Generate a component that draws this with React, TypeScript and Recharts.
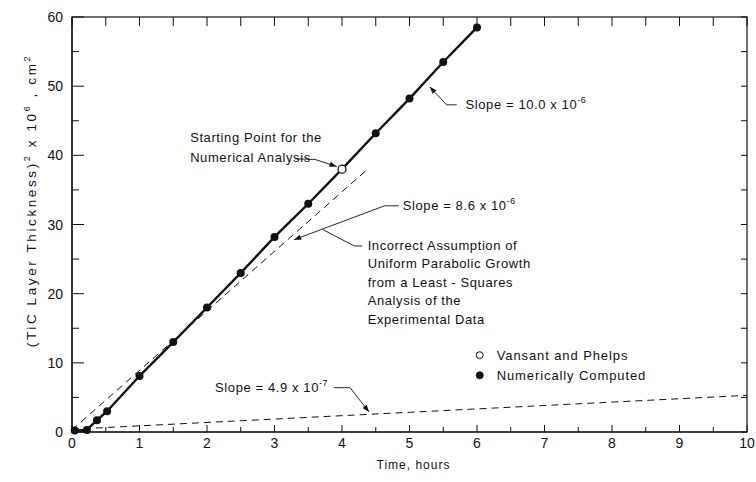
import React from "react";
import { ComposedChart, Line, Scatter, XAxis, YAxis, ReferenceLine, ReferenceDot, Label } from "recharts";

// numerically computed growth, hours vs (thickness)^2 x 10^6 cm^2
const computedHours = [0.04, 0.22, 0.37, 0.52, 1, 1.5, 2, 2.5, 3, 3.5, 4, 4.5, 5, 5.5, 6];
const computedSq = [0.2, 0.3, 1.7, 3.0, 8.1, 13, 18, 23, 28.2, 33, 38, 43.2, 48.2, 53.5, 58.5];

// Vansant and Phelps starting point
const vansantHours = [4];
const vansantSq = [38];

// least-squares parabolic fit (slope 8.6e-6)
const fitHours = [0, 4.38];
const fitSq = [0.3, 38];

// slope 4.9e-7 line
const lowHours = [0, 10];
const lowSq = [0.4, 5.3];

const xLabels = [0, 1, 2, 3, 4, 5, 6, 7, 8, 9, 10];
const yLabels = [0, 10, 20, 30, 40, 50, 60];

const xTicks = Array.from({ length: 21 }, (_, i) => i * 0.5);
const yTicks = Array.from({ length: 13 }, (_, i) => i * 5);

const X_MIN = 0;
const X_MAX = 10;
const Y_MIN = 0;
const Y_MAX = 60;

const zip = (xs: number[], ys: number[]) => xs.map((x, i) => ({ x, y: ys[i] }));

const computed = zip(computedHours, computedSq);
const computedDots = computed.filter((d) => d.x !== 4);
const vansant = zip(vansantHours, vansantSq);
const fit = zip(fitHours, fitSq);
const low = zip(lowHours, lowSq);

const FONT = "'Liberation Sans', Arial, sans-serif";
const INK = "#111";

// chart geometry
const W = 756;
const H = 482;
const M = { top: 17, right: 9, bottom: 15, left: 22 };
const Y_AXIS_W = 50;
const X_AXIS_H = 35;
const plot = {
  left: M.left + Y_AXIS_W,
  top: M.top,
  width: W - M.left - M.right - Y_AXIS_W,
  height: H - M.top - M.bottom - X_AXIS_H,
};

const Sup = ({ children }: { children: React.ReactNode }) => (
  <>
    <tspan dy={-6} fontSize={9}>{children}</tspan>
    <tspan dy={6}> </tspan>
  </>
);

// border plus inward ticks on every side, laid over the plot rectangle
const Frame = () => {
  const { left, top, width, height } = plot;
  const sx = width / (X_MAX - X_MIN);
  const sy = height / (Y_MAX - Y_MIN);
  const right = left + width;
  const bottom = top + height;
  const marks: string[] = [];
  xTicks.forEach((v) => {
    const px = left + (v - X_MIN) * sx;
    marks.push(`M${px},${bottom} V${bottom - (Number.isInteger(v) ? 7 : 5)}`);
    marks.push(`M${px},${top} V${top + 9}`);
  });
  yTicks.forEach((v) => {
    const py = bottom - (v - Y_MIN) * sy;
    marks.push(`M${left},${py} H${left + (yLabels.includes(v) ? 12 : 7)}`);
    marks.push(`M${right},${py} H${right - 6}`);
  });
  return (
    <svg width={W} height={H} style={{ position: "absolute", left: 0, top: 0, pointerEvents: "none" }}>
      <rect x={left} y={top} width={width} height={height} fill="none" stroke={INK} strokeWidth={1.2} />
      <path d={marks.join(" ")} stroke={INK} strokeWidth={1} fill="none" />
    </svg>
  );
};

const BottomTick = (p: any) => {
  const v = p.payload.value;
  if (!xLabels.includes(v)) return <g />;
  return (
    <text x={p.x} y={p.y + 16} textAnchor="middle" fontSize={14} fontFamily={FONT} fill={INK}>
      {v}
    </text>
  );
};

const LeftTick = (p: any) => {
  const v = p.payload.value;
  if (!yLabels.includes(v)) return <g />;
  return (
    <text x={p.x - 9} y={p.y + 5} textAnchor="end" fontSize={14} fontFamily={FONT} fill={INK}>
      {v}
    </text>
  );
};

// text annotation anchored at a data point
const note = (lines: React.ReactNode[], gap = 18.5, size = 13) => (p: any) => (
  <g>
    {lines.map((l, i) => (
      <text
        key={i}
        x={p.cx}
        y={p.cy + 4 + i * gap}
        fontSize={size}
        fontFamily={FONT}
        fill={INK}
        letterSpacing={0.6}
      >
        {l}
      </text>
    ))}
  </g>
);

const legendItem = (filled: boolean, label: string) => (p: any) => (
  <g>
    <circle cx={p.cx} cy={p.cy} r={3.5} fill={filled ? INK : "#fff"} stroke={INK} strokeWidth={1} />
    <text x={p.cx + 17} y={p.cy + 5} fontSize={13} fontFamily={FONT} fill={INK} letterSpacing={0.9}>
      {label}
    </text>
  </g>
);

const seg = (arrow: boolean) => (p: any) => {
  const { x1, y1, x2, y2 } = p;
  const a = Math.atan2(y2 - y1, x2 - x1);
  const len = 7;
  const w = 2.6;
  const bx = x2 - len * Math.cos(a);
  const by = y2 - len * Math.sin(a);
  const nx = -Math.sin(a) * w;
  const ny = Math.cos(a) * w;
  return (
    <g>
      <path d={`M${x1},${y1} L${x2},${y2}`} stroke={INK} strokeWidth={0.9} fill="none" />
      {arrow && <path d={`M${x2},${y2} L${bx + nx},${by + ny} L${bx - nx},${by - ny} Z`} fill={INK} />}
    </g>
  );
};

// leader polylines in data coordinates; last segment ends in an arrow
const leaders: { pts: [number, number][]; arrow: boolean }[] = [
  { pts: [[5.7, 47.3], [5.55, 47.3], [5.3, 49.9]], arrow: true },
  { pts: [[3.3, 39.5], [3.6, 39.4], [3.92, 38.4]], arrow: true },
  { pts: [[4.84, 32.7], [4.63, 32.7], [3.29, 27.8]], arrow: true },
  { pts: [[4.3, 26.9], [4.18, 26.9], [3.71, 29.3]], arrow: false },
  { pts: [[3.88, 6.4], [4.12, 6.4], [4.4, 2.9]], arrow: true },
];

const segments = leaders.flatMap((l, li) =>
  l.pts.slice(1).map((pt, i) => ({
    key: `${li}-${i}`,
    from: l.pts[i],
    to: pt,
    arrow: l.arrow && i === l.pts.length - 2,
  }))
);

const YTitle = (props: any) => {
  const { x, y, height } = props.viewBox;
  const cx = x + 14;
  const cy = y + height / 2 - 24;
  return (
    <text
      x={cx}
      y={cy}
      transform={`rotate(-90 ${cx} ${cy})`}
      textAnchor="middle"
      fontSize={13.5}
      fontFamily={FONT}
      fill={INK}
      letterSpacing={2.6}
    >
      (TiC Layer Thickness)<Sup>2</Sup>x 10<Sup>6</Sup>, cm<tspan dy={-6} fontSize={9}>2</tspan>
    </text>
  );
};

const XTitle = (props: any) => {
  const { x, y, width } = props.viewBox;
  return (
    <text x={x + width / 2 + 4} y={y + 37} textAnchor="middle" fontSize={12} fontFamily={FONT} fill={INK} letterSpacing={1}>
      Time, hours
    </text>
  );
};

export default function App() {
  return (
    <div style={{ position: "absolute", left: 0, top: 0, width: W, height: H, background: "#fff" }}>
      <ComposedChart width={W} height={H} margin={M}>
        <XAxis
          type="number"
          dataKey="x"
          domain={[X_MIN, X_MAX]}
          ticks={xTicks}
          interval={0}
          tickSize={0}
          tickMargin={0}
          tickLine={false}
          tick={<BottomTick />}
          axisLine={{ stroke: INK, strokeWidth: 1.2 }}
          height={X_AXIS_H}
        >
          <Label content={<XTitle />} />
        </XAxis>
        <YAxis
          type="number"
          dataKey="y"
          domain={[Y_MIN, Y_MAX]}
          ticks={yTicks}
          interval={0}
          tickSize={0}
          tickMargin={0}
          tickLine={false}
          tick={<LeftTick />}
          axisLine={{ stroke: INK, strokeWidth: 1.2 }}
          width={Y_AXIS_W}
        >
          <Label content={<YTitle />} />
        </YAxis>

        <Line data={low} dataKey="y" stroke={INK} strokeWidth={1} strokeDasharray="7 5" dot={false} isAnimationActive={false} />
        <Line data={fit} dataKey="y" stroke={INK} strokeWidth={1} strokeDasharray="7 5" dot={false} isAnimationActive={false} />
        <Line data={computed} dataKey="y" stroke={INK} strokeWidth={2.4} dot={false} isAnimationActive={false} />
        <Scatter data={computedDots} dataKey="y" shape={(p: any) => <circle cx={p.cx} cy={p.cy} r={4} fill={INK} />} isAnimationActive={false} />
        <Scatter data={vansant} dataKey="y" shape={(p: any) => <circle cx={p.cx} cy={p.cy} r={4} fill="#fff" stroke={INK} strokeWidth={1.3} />} isAnimationActive={false} />

        {segments.map((s) => (
          <ReferenceLine
            key={s.key}
            segment={[{ x: s.from[0], y: s.from[1] }, { x: s.to[0], y: s.to[1] }]}
            shape={seg(s.arrow)}
          />
        ))}

        <ReferenceDot x={5.83} y={47.3} r={0} shape={note([<>Slope = 10.0 x 10<tspan dy={-6} fontSize={9}>-6</tspan></>])} />
        <ReferenceDot x={1.75} y={42.5} r={0} shape={note(["Starting Point for the", "Numerical Analysis"], 20)} />
        <ReferenceDot x={4.9} y={32.7} r={0} shape={note([<>Slope = 8.6 x 10<tspan dy={-6} fontSize={9}>-6</tspan></>])} />
        <ReferenceDot
          x={4.38}
          y={26.9}
          r={0}
          shape={note([
            "Incorrect Assumption of",
            "Uniform Parabolic Growth",
            "from a Least - Squares",
            "Analysis of the",
            "Experimental Data",
          ])}
        />
        <ReferenceDot x={2.12} y={6.4} r={0} shape={note([<>Slope = 4.9 x 10<tspan dy={-6} fontSize={9}>-7</tspan></>])} />
        <ReferenceDot x={6.04} y={11.1} r={0} shape={legendItem(false, "Vansant and Phelps")} />
        <ReferenceDot x={6.04} y={8.2} r={0} shape={legendItem(true, "Numerically Computed")} />
      </ComposedChart>
      <Frame />
    </div>
  );
}
